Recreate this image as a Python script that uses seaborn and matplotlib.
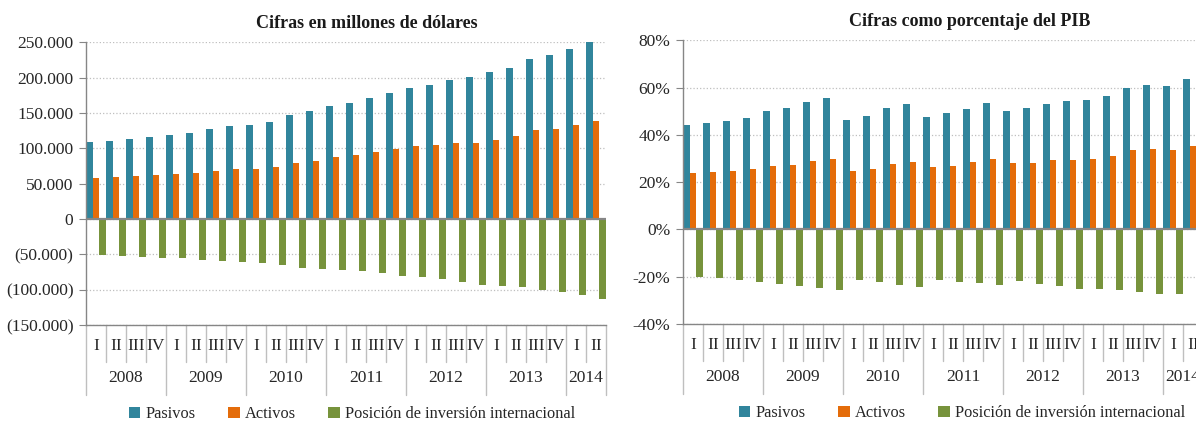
import numpy as np
import pandas as pd
import seaborn as sns
import matplotlib.pyplot as plt
from matplotlib.ticker import FuncFormatter, MultipleLocator
from matplotlib.patches import Patch

# ---------------- datos ----------------
years = ["2008", "2009", "2010", "2011", "2012", "2013", "2014"]
quarters = ["I", "II", "III", "IV"] * 6 + ["I", "II"]
series = ["Pasivos", "Activos", "Posición de inversión internacional"]
colors = ["#31859C", "#E46C0A", "#77933C"]

# millones de dólares
pasivos_usd = [108300, 110200, 113000, 115800, 118600, 121400, 127600, 130900, 132800,
               137500, 147400, 152500, 159600, 164300, 170900, 178900, 185000, 189200,
               196300, 200500, 207600, 213700, 226000, 231600, 240100, 250000]
activos_usd = [58400, 59800, 61200, 61700, 64000, 64500, 68300, 70600, 71100, 73900,
               79100, 81400, 87600, 90400, 95100, 99300, 103100, 104000, 107300, 107800,
               112000, 117200, 126100, 128000, 132300, 138800]
pii_usd = [-50800, -51800, -53200, -55100, -55500, -57400, -59800, -61200, -62100, -65000,
           -68700, -71100, -72500, -74300, -76700, -80000, -81900, -85600, -89000, -93200,
           -95500, -96500, -100700, -104000, -108200, -113400]

# porcentaje del PIB
pasivos_pib = [44.3, 45.0, 46.0, 47.2, 50.1, 51.2, 53.9, 55.4, 46.3, 47.8, 51.2, 52.9, 47.5,
               49.1, 50.9, 53.3, 50.1, 51.2, 53.2, 54.3, 54.9, 56.6, 59.8, 61.2, 60.6, 63.5]
activos_pib = [24.0, 24.5, 24.8, 25.4, 26.9, 27.4, 29.1, 30.0, 24.8, 25.7, 27.6, 28.5, 26.2,
               26.9, 28.5, 29.8, 28.1, 28.2, 29.2, 29.3, 29.8, 31.2, 33.4, 34.0, 33.6, 35.1]
pii_pib = [-20.3, -20.6, -21.2, -22.1, -23.1, -24.0, -24.8, -25.5, -21.4, -22.3, -23.7, -24.5,
           -21.4, -22.1, -22.7, -23.7, -22.0, -23.0, -24.0, -25.1, -25.2, -25.5, -26.5, -27.4,
           -27.2, -28.4]

periods = [f"{years[i // 4]}-{q}" for i, q in enumerate(quarters)]


def long_df(a, b, c):
    return pd.DataFrame({
        "periodo": periods * 3,
        "serie": [series[0]] * 26 + [series[1]] * 26 + [series[2]] * 26,
        "valor": list(a) + list(b) + list(c),
    })


df_usd = long_df(pasivos_usd, activos_usd, pii_usd)
df_pib = long_df(pasivos_pib, activos_pib, pii_pib)

sns.set_style("white")
plt.rcParams["font.family"] = ["Liberation Serif", "DejaVu Serif"]
plt.rcParams["font.size"] = 12.5

W, H = 1196, 424
fig = plt.figure(figsize=(W / 100, H / 100), dpi=100)


def px_axes(left, top, right, bottom):
    return fig.add_axes([left / W, 1 - bottom / H, (right - left) / W, (bottom - top) / H])


ax1 = px_axes(86, 42.3, 606, 325)
ax2 = px_axes(683, 40.3, 1203, 324)

grid_c = "#BFBFBF"
axis_c = "#868686"


def draw_panel(ax, df, ymin, ymax, step, fmt):
    sns.barplot(data=df, x="periodo", y="valor", hue="serie", hue_order=series,
                palette=colors, saturation=1, width=0.96, ax=ax, legend=False,
                edgecolor="none", linewidth=0)
    ax.set_xlim(-0.5, 25.5)
    ax.set_ylim(ymin, ymax)
    ax.yaxis.set_major_locator(MultipleLocator(step))
    ax.yaxis.set_major_formatter(FuncFormatter(fmt))
    ax.grid(axis="y", color=grid_c, linestyle=":", linewidth=0.9)
    ax.set_axisbelow(True)
    ax.axhline(0, color=axis_c, linewidth=1.6, zorder=3)
    for s in ["top", "right"]:
        ax.spines[s].set_visible(False)
    for s in ["left", "bottom"]:
        ax.spines[s].set_color(axis_c)
        ax.spines[s].set_linewidth(1.0)
    ax.tick_params(axis="y", left=True, length=5, color=axis_c, labelsize=12.5, pad=4,
                   labelcolor="#262626")
    ax.set_xticks([])
    ax.set_xlabel("")
    ax.set_ylabel("")

    # etiquetas de categorias de dos niveles
    hpx = ax.get_position().height * H
    tr = ax.get_xaxis_transform()
    q_y = -21 / hpx
    y_y = -53 / hpx
    q_line = -37 / hpx
    y_line = -70 / hpx
    for i, q in enumerate(quarters):
        ax.text(i, q_y, q, transform=tr, ha="center", va="center", fontsize=12.5,
                color="#262626", clip_on=False)
    for i in range(27):
        x = i - 0.5
        end = y_line if (i % 4 == 0 or i == 26) else q_line
        ax.plot([x, x], [0, end], transform=tr, color=grid_c, linewidth=1.0,
                clip_on=False)
    for k, yr in enumerate(years):
        start = k * 4
        stop = min(start + 4, 26)
        ax.text((start + stop - 1) / 2, y_y, yr, transform=tr, ha="center", va="center",
                fontsize=12.5, color="#262626", clip_on=False)


def miles(v, p):
    s = f"{abs(v):,.0f}".replace(",", ".")
    if v == 0:
        return "0"
    return s if v > 0 else f"({s})"


draw_panel(ax1, df_usd, -150000, 250000, 50000, miles)
draw_panel(ax2, df_pib, -40, 80, 20, lambda v, p: f"{v:.0f}%")

fig.text(367 / W, 1 - 23 / H, "Cifras en millones de dólares", ha="center", va="center",
         fontsize=13, fontweight="bold", color="#1a1a1a")
fig.text(970 / W, 1 - 22 / H, "Cifras como porcentaje del PIB", ha="center", va="center",
         fontsize=13, fontweight="bold", color="#1a1a1a")

handles = [Patch(facecolor=c, edgecolor="none", label=s) for c, s in zip(colors, series)]
for cx, cy in [(352, 414), (962, 413)]:
    fig.legend(handles=handles, loc="center", bbox_to_anchor=(cx / W, 1 - cy / H),
               ncol=3, frameon=False, prop={"family": "Liberation Serif", "size": 11.8},
               handlelength=0.7, handleheight=0.7, handletextpad=0.3, columnspacing=2.0)

fig.savefig("out.png", dpi=100)
